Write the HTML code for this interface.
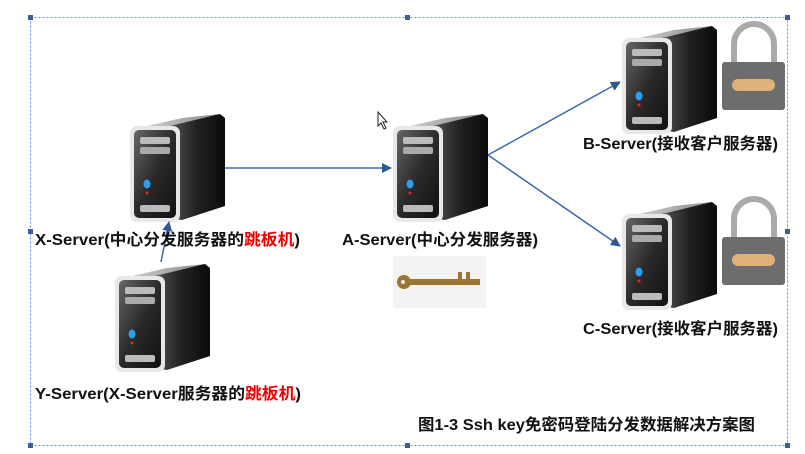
<!DOCTYPE html>
<html><head><meta charset="utf-8"><style>
body{margin:0;background:#fff;width:805px;height:449px;overflow:hidden}
svg text{font-family:"Liberation Sans","Noto Sans CJK SC",sans-serif;font-weight:bold;font-size:16px;fill:#111}
</style></head><body>
<svg width="805" height="449" viewBox="0 0 805 449" xmlns="http://www.w3.org/2000/svg">
<defs>
<linearGradient id="side" x1="0" y1="0" x2="1" y2="0"><stop offset="0" stop-color="#555"/><stop offset="0.5" stop-color="#222"/><stop offset="1" stop-color="#0a0a0a"/></linearGradient>
<linearGradient id="front" x1="0" y1="0" x2="1" y2="1"><stop offset="0" stop-color="#666"/><stop offset="0.5" stop-color="#2a2a2a"/><stop offset="1" stop-color="#111"/></linearGradient>
<linearGradient id="top" x1="0" y1="0" x2="1" y2="0"><stop offset="0" stop-color="#ddd"/><stop offset="1" stop-color="#888"/></linearGradient>
<g id="srv">
<path d="M38 14 L90 4 L95 8 L95 96 L52 110 L38 108 Z" fill="url(#side)"/>
<path d="M0 20 L52 8 L90 4 L40 16 Z" fill="url(#top)"/>
<rect x="0" y="16" width="50" height="96" rx="7" fill="#e8e8e8"/>
<rect x="4" y="20" width="42" height="88" rx="5" fill="url(#front)"/>
<rect x="10" y="27" width="30" height="7" rx="2" fill="#bbb"/>
<rect x="10" y="37" width="30" height="7" rx="2" fill="#aaa"/>
<rect x="10" y="95" width="30" height="7" rx="2" fill="#bbb"/>
<ellipse cx="17" cy="74" rx="3.5" ry="4.5" fill="#2a9ff0"/>
<circle cx="17" cy="83" r="1.5" fill="#e22"/>
</g>
<g id="lock">
<path d="M12 42 V22 a20 20 0 0 1 40 0 V42" fill="none" stroke="#aaa" stroke-width="6"/>
<rect x="0" y="40" width="63" height="48" rx="3" fill="#6d6d6d"/>
<rect x="10" y="57" width="43" height="12" rx="6" fill="#e0b27a"/>
</g>
<marker id="ar" markerWidth="10" markerHeight="10" refX="9" refY="5" orient="auto" markerUnits="userSpaceOnUse"><path d="M0 0 L10 5 L0 10 Z" fill="#2e5a93"/></marker>
</defs>
<rect x="30.5" y="17.5" width="757" height="428" fill="none" stroke="#5b8fd6" stroke-dasharray="2 2"/>
<g fill="#3c5f99"><rect x="28" y="15" width="5" height="5"/><rect x="405" y="15" width="5" height="5"/><rect x="785" y="15" width="5" height="5"/><rect x="28" y="229" width="5" height="5"/><rect x="785" y="229" width="5" height="5"/><rect x="28" y="443" width="5" height="5"/><rect x="405" y="443" width="5" height="5"/><rect x="785" y="443" width="5" height="5"/></g>
<use href="#srv" x="130" y="110"/>
<use href="#srv" x="115" y="260"/>
<use href="#srv" x="393" y="110"/>
<use href="#srv" x="622" y="22"/>
<use href="#srv" x="622" y="198"/>
<use href="#lock" x="722" y="22"/>
<use href="#lock" x="722" y="197"/>
<rect x="393" y="256" width="93" height="52" fill="#f3f3f3"/>
<g fill="#9a7535"><circle cx="404" cy="282" r="7"/><rect x="408" y="279" width="72" height="6"/><rect x="458" y="272" width="4" height="8"/><rect x="466" y="272" width="4" height="8"/></g>
<circle cx="403" cy="282" r="2" fill="#f3f3f3"/>
<g stroke="#3b6aa8" stroke-width="1.5" fill="none" marker-end="url(#ar)">
<line x1="225" y1="168" x2="391" y2="168"/>
<line x1="488" y1="155" x2="620" y2="82"/>
<line x1="488" y1="155" x2="620" y2="246"/>
<line x1="161" y1="262" x2="169" y2="222"/>
</g>
<path d="M378 112 L378 126 L381 123 L384 129 L386 128 L383 122 L387 122 Z" fill="#fff" stroke="#222"/>
<text x="35" y="245" textLength="265" lengthAdjust="spacingAndGlyphs">X-Server(中心分发服务器的<tspan fill="#e00">跳板机</tspan>)</text>
<text x="342" y="245" textLength="196" lengthAdjust="spacingAndGlyphs">A-Server(中心分发服务器)</text>
<text x="583" y="149" textLength="195" lengthAdjust="spacingAndGlyphs">B-Server(接收客户服务器)</text>
<text x="583" y="334" textLength="195" lengthAdjust="spacingAndGlyphs">C-Server(接收客户服务器)</text>
<text x="35" y="399" textLength="266" lengthAdjust="spacingAndGlyphs">Y-Server(X-Server服务器的<tspan fill="#e00">跳板机</tspan>)</text>
<text x="418" y="430" font-size="15" textLength="337" lengthAdjust="spacingAndGlyphs">图1-3 Ssh key免密码登陆分发数据解决方案图</text>
</svg>
</body></html>
